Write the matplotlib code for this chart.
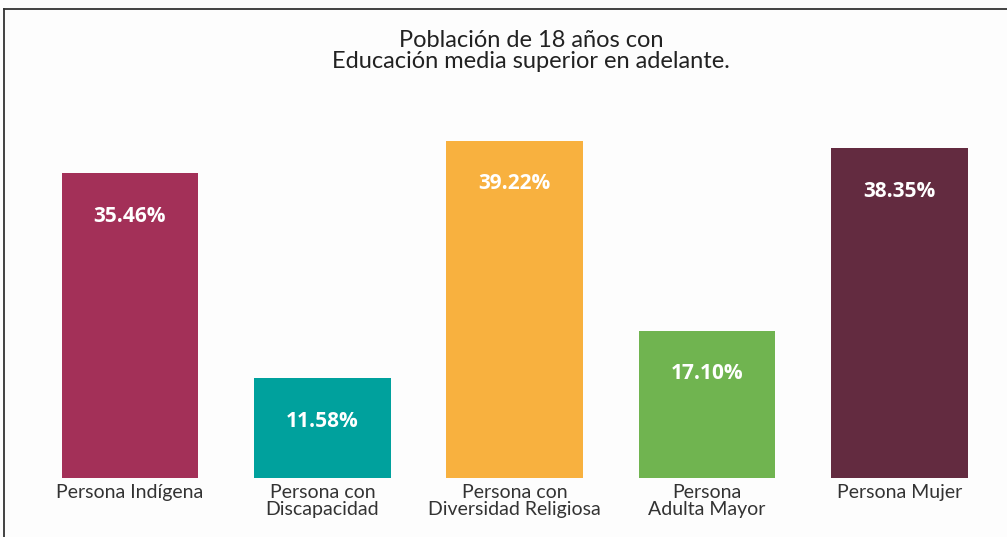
import matplotlib
matplotlib.use("Agg")
import matplotlib.pyplot as plt
from matplotlib.lines import Line2D

categories = ["Persona Indígena", "Persona con\nDiscapacidad", "Persona con\nDiversidad Religiosa",
              "Persona\nAdulta Mayor", "Persona Mujer"]
values = [35.46, 11.58, 39.22, 17.10, 38.35]
labels = ["35.46%", "11.58%", "39.22%", "17.10%", "38.35%"]
colors = ["#A33058", "#00A19D", "#F8B13F", "#70B450", "#632B40"]
title = "Población de 18 años con\nEducación media superior en adelante."

W, H = 1007, 537
fig = plt.figure(figsize=(W / 100, H / 100), dpi=100, facecolor="#fdfdfd")
plt.rcParams["font.family"] = ["Lato", "DejaVu Sans"]

x0, x1 = 33.8, 995.7
ybase = 478
ppu = 8.6
ymax = 45
ax = fig.add_axes([x0 / W, (H - ybase) / H, (x1 - x0) / W, ymax * ppu / H])
ax.set_facecolor("none")
xs = list(range(len(values)))
bars = ax.bar(xs, values, width=0.71, color=colors)
ax.set_xlim(-0.5, len(values) - 0.5)
ax.set_ylim(0, ymax)
for s in ax.spines.values():
    s.set_visible(False)
ax.set_yticks([])
ax.set_xticks(xs)
ax.set_xticklabels(categories, fontsize=14, color="#333333", linespacing=1.05)
ax.tick_params(axis="x", length=0, pad=4)

for b, lab in zip(bars, labels):
    ax.annotate(lab, (b.get_x() + b.get_width() / 2, b.get_height()),
                xytext=(0, -31), textcoords="offset points", ha="center", va="center",
                color="white", fontsize=15, fontweight="bold", family=["Open Sans", "DejaVu Sans"])

fig.text(531 / W, 1 - 51 / H, title, ha="center", va="center", fontsize=17,
         color="#222222", linespacing=1.0)

fig.add_artist(Line2D([4 / W, 1], [1 - 9 / H, 1 - 9 / H], transform=fig.transFigure,
                      color="#333333", lw=1.3))
fig.add_artist(Line2D([4 / W, 4 / W], [0, 1 - 9 / H], transform=fig.transFigure,
                      color="#333333", lw=1.3))

fig.savefig("out.png", dpi=100, facecolor=fig.get_facecolor())
